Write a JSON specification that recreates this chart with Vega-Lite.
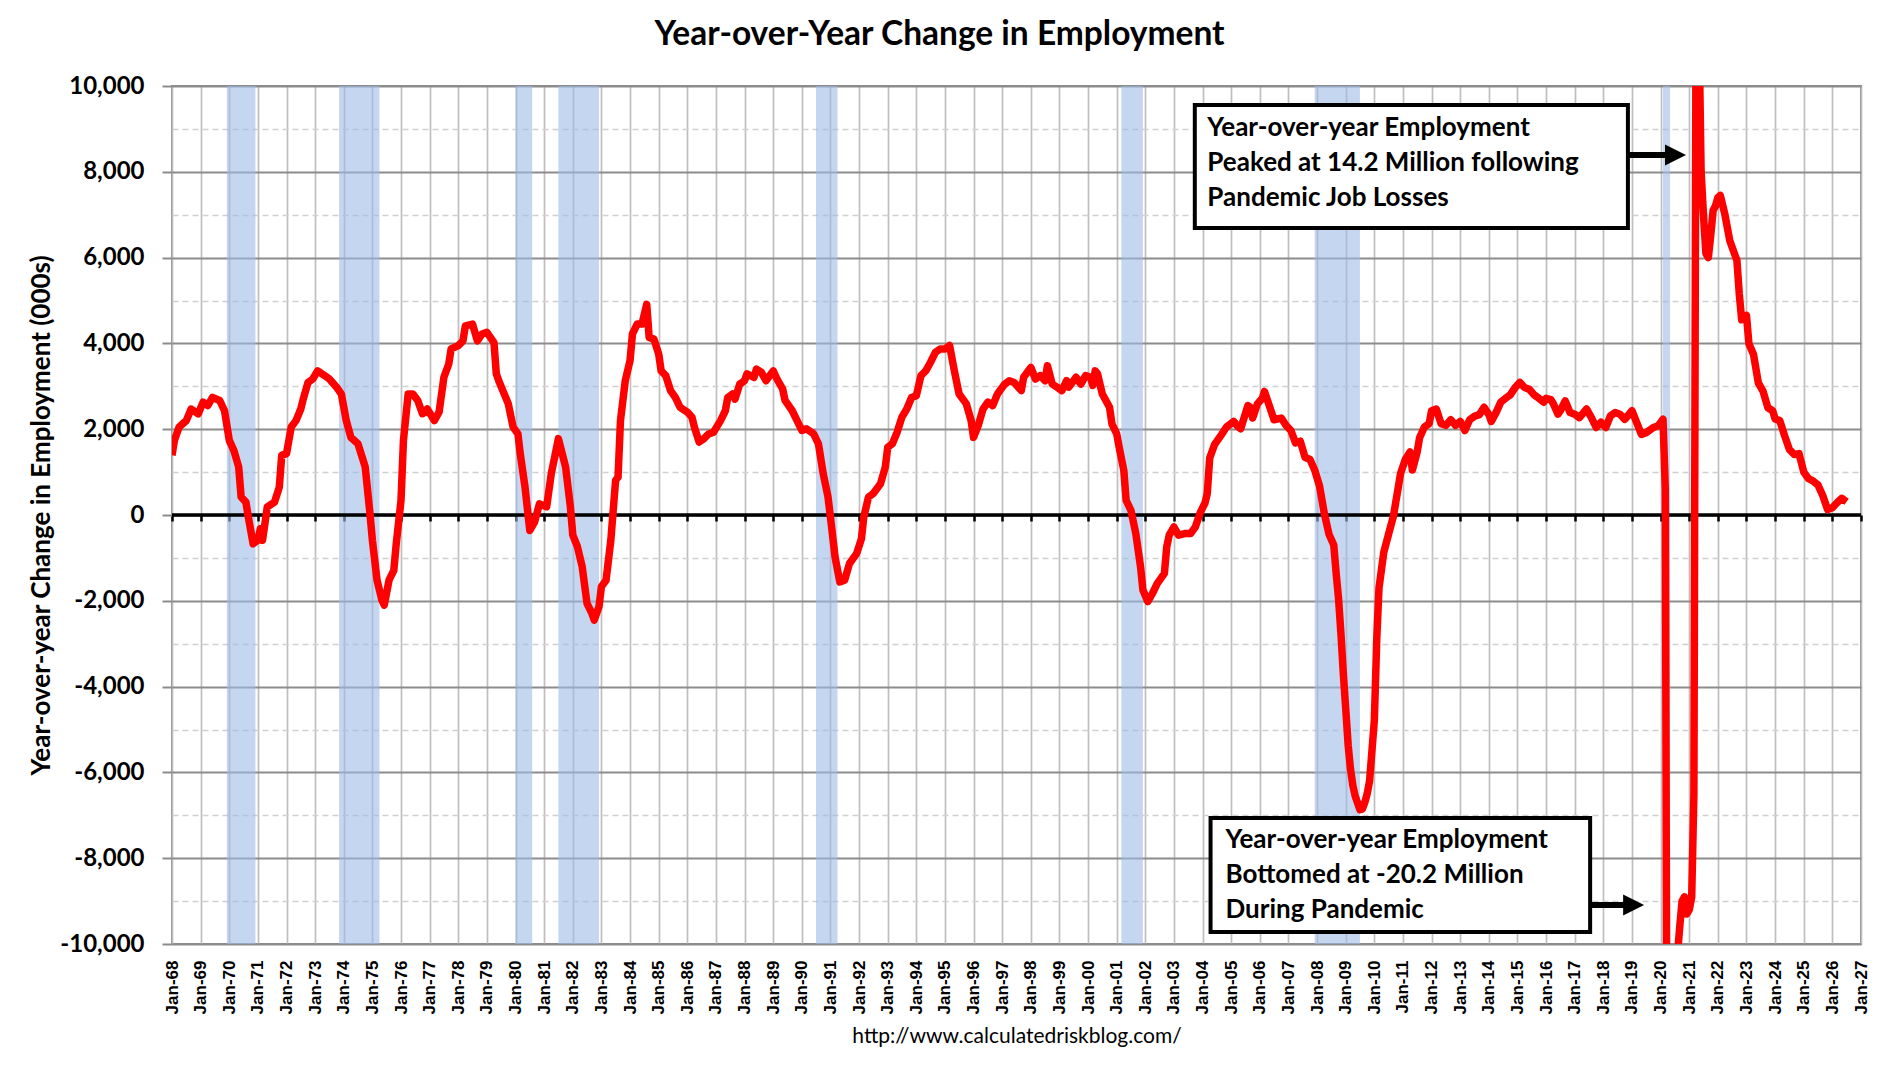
{
"$schema": "https://vega.github.io/schema/vega-lite/v6.json",
"width": 1689, "height": 858,
"autosize": {"type": "none"},
"padding": {"left": 172, "top": 86, "right": 19, "bottom": 122},
"background": "white",
"config": {"view": {"stroke": "#8c8c8c", "strokeWidth": 2}, "font": "Lato"},
"title": {"text": "Year-over-Year Change in Employment", "font": "Lato", "fontSize": 33.5, "fontWeight": "bold", "color": "black", "anchor": "middle", "frame": "group", "dx": -77, "offset": 22},
"datasets": {
"recessions": [{"start":"1969-12","end":"1970-12"},{"start":"1973-11","end":"1975-04"},{"start":"1980-01","end":"1980-08"},{"start":"1981-07","end":"1982-12"},{"start":"1990-07","end":"1991-04"},{"start":"2001-03","end":"2001-12"},{"start":"2007-12","end":"2009-07"},{"start":"2020-02","end":"2020-05"}],
"boxes": [{"x1":"2003-09-24","x2":"2018-11-10","y1":9557,"y2":6690},{"x1":"2004-04-12","x2":"2017-07-16","y1":-7063,"y2":-9720}],
"notes": [{"x":"2004-03-02","y":8834,"label":"Year-over-year Employment\nPeaked at 14.2 Million following\nPandemic Job Losses"},{"x":"2004-10-20","y":-7762,"label":"Year-over-year Employment\nBottomed at -20.2 Million\nDuring Pandemic"}],
"shafts": [{"x1":"2018-11-06","x2":"2020-03-14","y":8392},{"x1":"2017-07-02","x2":"2018-10-01","y":-9091}],
"heads": [{"x":"2020-07-09","y":8392},{"x":"2019-01-22","y":-9091}],
"emp": [
{"d":"1968-01","v":1390},{"d":"1968-02","v":1740},{"d":"1968-04","v":2050},{"d":"1968-07","v":2200},{"d":"1968-09","v":2470},{"d":"1968-12","v":2360},
{"d":"1969-02","v":2630},{"d":"1969-04","v":2550},{"d":"1969-06","v":2740},{"d":"1969-09","v":2670},{"d":"1969-11","v":2430},
{"d":"1970-01","v":1740},{"d":"1970-03","v":1500},{"d":"1970-05","v":1120},{"d":"1970-06","v":420},{"d":"1970-08","v":300},{"d":"1970-09","v":-50},{"d":"1970-11","v":-670},
{"d":"1971-01","v":-590},{"d":"1971-02","v":-320},{"d":"1971-03","v":-590},{"d":"1971-05","v":190},{"d":"1971-08","v":300},{"d":"1971-10","v":650},{"d":"1971-11","v":1390},
{"d":"1972-01","v":1430},{"d":"1972-03","v":2050},{"d":"1972-05","v":2200},{"d":"1972-07","v":2470},{"d":"1972-08","v":2700},{"d":"1972-10","v":3090},{"d":"1972-12","v":3170},
{"d":"1973-02","v":3360},{"d":"1973-05","v":3250},{"d":"1973-07","v":3170},{"d":"1973-10","v":2980},{"d":"1973-12","v":2820},
{"d":"1974-02","v":2200},{"d":"1974-04","v":1810},{"d":"1974-07","v":1660},{"d":"1974-10","v":1120},{"d":"1974-12","v":30},
{"d":"1975-01","v":-590},{"d":"1975-03","v":-1520},{"d":"1975-05","v":-1980},{"d":"1975-06","v":-2100},{"d":"1975-08","v":-1520},{"d":"1975-10","v":-1290},{"d":"1975-11","v":-670},
{"d":"1976-01","v":340},{"d":"1976-02","v":1740},{"d":"1976-04","v":2820},{"d":"1976-06","v":2820},{"d":"1976-08","v":2670},{"d":"1976-10","v":2360},{"d":"1976-12","v":2470},
{"d":"1977-03","v":2200},{"d":"1977-05","v":2400},{"d":"1977-07","v":3210},{"d":"1977-09","v":3520},{"d":"1977-10","v":3870},
{"d":"1978-01","v":3950},{"d":"1978-03","v":4060},{"d":"1978-04","v":4410},{"d":"1978-07","v":4450},{"d":"1978-09","v":4060},{"d":"1978-11","v":4220},
{"d":"1979-01","v":4260},{"d":"1979-04","v":4020},{"d":"1979-05","v":3290},{"d":"1979-06","v":3130},{"d":"1979-10","v":2590},{"d":"1979-12","v":2050},
{"d":"1980-02","v":1890},{"d":"1980-03","v":1430},{"d":"1980-05","v":650},{"d":"1980-07","v":-360},{"d":"1980-09","v":-160},{"d":"1980-11","v":260},
{"d":"1981-02","v":190},{"d":"1981-04","v":960},{"d":"1981-07","v":1780},{"d":"1981-10","v":1120},{"d":"1981-12","v":190},
{"d":"1982-01","v":-470},{"d":"1982-03","v":-740},{"d":"1982-05","v":-1210},{"d":"1982-07","v":-2060},{"d":"1982-09","v":-2290},{"d":"1982-10","v":-2450},{"d":"1982-12","v":-2140},
{"d":"1983-01","v":-1670},{"d":"1983-03","v":-1520},{"d":"1983-05","v":-590},{"d":"1983-07","v":810},{"d":"1983-08","v":880},{"d":"1983-09","v":2200},{"d":"1983-11","v":3130},
{"d":"1984-01","v":3600},{"d":"1984-02","v":4220},{"d":"1984-04","v":4450},{"d":"1984-06","v":4450},{"d":"1984-08","v":4910},{"d":"1984-09","v":4140},{"d":"1984-11","v":4100},
{"d":"1985-01","v":3750},{"d":"1985-02","v":3360},{"d":"1985-04","v":3250},{"d":"1985-06","v":2900},{"d":"1985-08","v":2740},{"d":"1985-10","v":2510},
{"d":"1986-01","v":2400},{"d":"1986-03","v":2280},{"d":"1986-04","v":2050},{"d":"1986-06","v":1700},{"d":"1986-08","v":1780},{"d":"1986-10","v":1890},{"d":"1986-12","v":1930},
{"d":"1987-03","v":2200},{"d":"1987-05","v":2430},{"d":"1987-06","v":2740},{"d":"1987-08","v":2820},{"d":"1987-09","v":2700},{"d":"1987-11","v":3050},
{"d":"1988-01","v":3130},{"d":"1988-02","v":3290},{"d":"1988-05","v":3210},{"d":"1988-06","v":3400},{"d":"1988-08","v":3330},{"d":"1988-10","v":3130},
{"d":"1989-01","v":3360},{"d":"1989-03","v":3130},{"d":"1989-05","v":2940},{"d":"1989-06","v":2670},{"d":"1989-09","v":2430},{"d":"1989-11","v":2200},
{"d":"1990-01","v":1970},{"d":"1990-03","v":2010},{"d":"1990-06","v":1890},{"d":"1990-08","v":1660},{"d":"1990-10","v":960},{"d":"1990-12","v":420},
{"d":"1991-01","v":-50},{"d":"1991-03","v":-980},{"d":"1991-05","v":-1560},{"d":"1991-07","v":-1520},{"d":"1991-09","v":-1130},{"d":"1991-12","v":-900},
{"d":"1992-02","v":-550},{"d":"1992-03","v":-50},{"d":"1992-05","v":420},{"d":"1992-07","v":500},{"d":"1992-10","v":730},{"d":"1992-12","v":1120},
{"d":"1993-01","v":1580},{"d":"1993-03","v":1660},{"d":"1993-05","v":1930},{"d":"1993-07","v":2280},{"d":"1993-09","v":2470},{"d":"1993-11","v":2740},
{"d":"1994-01","v":2780},{"d":"1994-03","v":3250},{"d":"1994-05","v":3360},{"d":"1994-07","v":3560},{"d":"1994-09","v":3790},{"d":"1994-11","v":3870},
{"d":"1995-01","v":3870},{"d":"1995-03","v":3950},{"d":"1995-05","v":3360},{"d":"1995-07","v":2820},{"d":"1995-10","v":2590},{"d":"1995-12","v":2200},
{"d":"1996-01","v":1810},{"d":"1996-03","v":2090},{"d":"1996-05","v":2470},{"d":"1996-07","v":2630},{"d":"1996-09","v":2550},{"d":"1996-11","v":2820},
{"d":"1997-02","v":3050},{"d":"1997-04","v":3130},{"d":"1997-06","v":3090},{"d":"1997-09","v":2900},{"d":"1997-10","v":3210},
{"d":"1998-01","v":3440},{"d":"1998-03","v":3170},{"d":"1998-05","v":3250},{"d":"1998-07","v":3130},{"d":"1998-08","v":3480},{"d":"1998-10","v":3050},{"d":"1998-12","v":2980},
{"d":"1999-02","v":2900},{"d":"1999-04","v":3130},{"d":"1999-05","v":2980},{"d":"1999-08","v":3210},{"d":"1999-10","v":3050},{"d":"1999-12","v":3250},
{"d":"2000-02","v":3210},{"d":"2000-03","v":3020},{"d":"2000-04","v":3360},{"d":"2000-05","v":3290},{"d":"2000-07","v":2820},{"d":"2000-10","v":2510},{"d":"2000-11","v":2120},
{"d":"2001-01","v":1890},{"d":"2001-02","v":1580},{"d":"2001-04","v":1040},{"d":"2001-05","v":340},{"d":"2001-07","v":110},{"d":"2001-09","v":-430},{"d":"2001-11","v":-1210},{"d":"2001-12","v":-1750},
{"d":"2002-02","v":-2020},{"d":"2002-04","v":-1830},{"d":"2002-06","v":-1600},{"d":"2002-09","v":-1360},{"d":"2002-10","v":-740},{"d":"2002-11","v":-470},
{"d":"2003-01","v":-280},{"d":"2003-03","v":-470},{"d":"2003-06","v":-430},{"d":"2003-08","v":-430},{"d":"2003-10","v":-280},{"d":"2003-12","v":50},
{"d":"2004-02","v":280},{"d":"2004-03","v":500},{"d":"2004-04","v":1330},{"d":"2004-06","v":1640},{"d":"2004-09","v":1880},{"d":"2004-11","v":2050},
{"d":"2005-02","v":2180},{"d":"2005-04","v":2050},{"d":"2005-05","v":2010},{"d":"2005-08","v":2550},{"d":"2005-09","v":2510},{"d":"2005-10","v":2260},{"d":"2005-12","v":2590},
{"d":"2006-02","v":2720},{"d":"2006-03","v":2880},{"d":"2006-05","v":2550},{"d":"2006-07","v":2220},{"d":"2006-10","v":2260},{"d":"2006-12","v":2090},
{"d":"2007-02","v":1970},{"d":"2007-04","v":1680},{"d":"2007-06","v":1720},{"d":"2007-08","v":1340},{"d":"2007-10","v":1300},{"d":"2007-12","v":1050},
{"d":"2008-02","v":680},{"d":"2008-04","v":50},{"d":"2008-06","v":-450},{"d":"2008-08","v":-700},{"d":"2008-09","v":-1370},{"d":"2008-10","v":-1950},{"d":"2008-11","v":-2780},{"d":"2008-12","v":-3700},
{"d":"2009-01","v":-4530},{"d":"2009-02","v":-5370},{"d":"2009-03","v":-5900},{"d":"2009-04","v":-6300},{"d":"2009-05","v":-6550},{"d":"2009-07","v":-6870},{"d":"2009-08","v":-6850},{"d":"2009-09","v":-6700},{"d":"2009-10","v":-6500},{"d":"2009-11","v":-6200},{"d":"2009-12","v":-5500},
{"d":"2010-01","v":-4780},{"d":"2010-02","v":-2870},{"d":"2010-03","v":-1700},{"d":"2010-05","v":-870},{"d":"2010-07","v":-450},{"d":"2010-09","v":-30},{"d":"2010-10","v":300},{"d":"2010-11","v":630},{"d":"2010-12","v":970},
{"d":"2011-02","v":1300},{"d":"2011-04","v":1470},{"d":"2011-05","v":1050},{"d":"2011-07","v":1470},{"d":"2011-08","v":1800},{"d":"2011-10","v":2050},{"d":"2011-12","v":2130},
{"d":"2012-01","v":2430},{"d":"2012-03","v":2470},{"d":"2012-05","v":2130},{"d":"2012-07","v":2090},{"d":"2012-09","v":2220},{"d":"2012-11","v":2090},
{"d":"2013-01","v":2180},{"d":"2013-03","v":1970},{"d":"2013-05","v":2220},{"d":"2013-07","v":2300},{"d":"2013-09","v":2340},{"d":"2013-11","v":2510},
{"d":"2014-01","v":2340},{"d":"2014-02","v":2180},{"d":"2014-04","v":2380},{"d":"2014-06","v":2630},{"d":"2014-08","v":2720},{"d":"2014-10","v":2800},{"d":"2014-12","v":2970},
{"d":"2015-02","v":3090},{"d":"2015-04","v":2970},{"d":"2015-06","v":2930},{"d":"2015-08","v":2800},{"d":"2015-10","v":2720},{"d":"2015-12","v":2630},
{"d":"2016-01","v":2720},{"d":"2016-03","v":2690},{"d":"2016-04","v":2600},{"d":"2016-06","v":2350},{"d":"2016-07","v":2430},{"d":"2016-09","v":2660},{"d":"2016-11","v":2390},
{"d":"2017-01","v":2350},{"d":"2017-03","v":2270},{"d":"2017-06","v":2470},{"d":"2017-08","v":2270},{"d":"2017-10","v":2040},{"d":"2017-12","v":2160},
{"d":"2018-02","v":2040},{"d":"2018-04","v":2310},{"d":"2018-06","v":2390},{"d":"2018-08","v":2350},{"d":"2018-10","v":2230},
{"d":"2019-01","v":2430},{"d":"2019-03","v":2160},{"d":"2019-05","v":1880},{"d":"2019-07","v":1920},{"d":"2019-10","v":2040},{"d":"2019-12","v":2080},
{"d":"2020-02","v":2230},{"d":"2020-03","v":600},{"d":"2020-04","v":-20200},{"d":"2020-05","v":-17700},{"d":"2020-06","v":-13400},{"d":"2020-07","v":-11900},{"d":"2020-08","v":-10300},{"d":"2020-09","v":-9600},{"d":"2020-10","v":-9000},{"d":"2020-11","v":-8900},{"d":"2020-12","v":-9300},
{"d":"2021-01","v":-9200},{"d":"2021-02","v":-8900},{"d":"2021-03","v":-6500},{"d":"2021-04","v":14200},{"d":"2021-05","v":11800},{"d":"2021-06","v":8000},{"d":"2021-07","v":7000},{"d":"2021-08","v":6100},{"d":"2021-09","v":6000},{"d":"2021-10","v":6500},{"d":"2021-11","v":7100},{"d":"2021-12","v":7200},
{"d":"2022-01","v":7400},{"d":"2022-02","v":7450},{"d":"2022-04","v":7000},{"d":"2022-06","v":6400},{"d":"2022-09","v":5930},{"d":"2022-10","v":5150},{"d":"2022-11","v":4550},
{"d":"2023-01","v":4650},{"d":"2023-02","v":3990},{"d":"2023-04","v":3740},{"d":"2023-06","v":3080},{"d":"2023-08","v":2880},{"d":"2023-10","v":2500},{"d":"2023-12","v":2430},
{"d":"2024-01","v":2240},{"d":"2024-03","v":2200},{"d":"2024-05","v":1850},{"d":"2024-07","v":1530},{"d":"2024-09","v":1410},{"d":"2024-11","v":1430},
{"d":"2025-01","v":1000},{"d":"2025-03","v":850},{"d":"2025-05","v":790},{"d":"2025-07","v":700},{"d":"2025-09","v":450},{"d":"2025-11","v":125},
{"d":"2026-01","v":170},{"d":"2026-03","v":285},{"d":"2026-05","v":390},{"d":"2026-07","v":310}
]
},
"layer": [
{
"data": {"name": "recessions"},
"mark": {"type": "rect", "color": "#9ebde6", "opacity": 0.6},
"encoding": {
"x": {"field": "start", "type": "temporal", "scale": {"type": "utc", "domain": [{"year": 1968, "month": 1, "date": 1, "utc": true}, {"year": 2027, "month": 1, "date": 1, "utc": true}]},
"axis": {"orient": "bottom", "offset": -429, "labels": false, "grid": false, "domain": false, "ticks": true, "tickSize": 6, "tickColor": "black", "tickWidth": 2.5, "tickCount": {"interval": "year", "step": 1}, "title": null}},
"x2": {"field": "end"}
}
},
{
"data": {"values": [{"v": 0}]},
"mark": {"type": "rule", "color": "black", "strokeWidth": 3.5},
"encoding": {"y": {"field": "v", "type": "quantitative", "scale": {"domain": [-10000, 10000], "nice": false}, "axis": null}}
},
{
"data": {"name": "emp"},
"mark": {"type": "line", "color": "#ff0000", "strokeWidth": 7.5, "clip": true, "strokeJoin": "round"},
"encoding": {
"x": {"field": "d", "type": "temporal", "scale": {"type": "utc", "domain": [{"year": 1968, "month": 1, "date": 1, "utc": true}, {"year": 2027, "month": 1, "date": 1, "utc": true}]},
"axis": {"orient": "bottom", "format": "%b-%y", "tickCount": {"interval": "year", "step": 1}, "labelAngle": -90, "labelAlign": "right", "labelBaseline": "middle", "labelFont": "Liberation Sans", "labelFontSize": 17, "labelFontWeight": "bold", "labelColor": "black", "labelPadding": 16, "labelOverlap": false, "labelFlush": false, "ticks": false, "tickSize": 0, "domain": false, "grid": true, "gridColor": "#bfbfbf", "gridWidth": 1.7, "gridOpacity": 1, "title": "http://www.calculatedriskblog.com/", "titleFont": "Lato", "titleFontSize": 21, "titleFontWeight": "normal", "titleColor": "black", "titlePadding": 12}},
"y": {"field": "v", "type": "quantitative", "scale": {"domain": [-10000, 10000], "nice": false},
"axis": {"values": [-10000,-9000,-8000,-7000,-6000,-5000,-4000,-3000,-2000,-1000,0,1000,2000,3000,4000,5000,6000,7000,8000,9000,10000],
"labelExpr": "datum.value % 2000 === 0 ? replace(format(datum.value, ','), '\u2212', '-') : ''",
"labelFont": "Lato", "labelFontSize": 24, "labelFontWeight": "bold", "labelColor": "black", "labelPadding": 18,
"tickSize": 10, "tickColor": "#8c8c8c", "tickWidth": 2,
"tickOpacity": {"condition": {"test": "datum.value % 2000 === 0", "value": 1}, "value": 0},
"domain": false, "grid": true,
"gridColor": {"condition": {"test": "datum.value % 2000 === 0", "value": "#8c8c8c"}, "value": "#d0d0d0"},
"gridWidth": {"condition": {"test": "datum.value % 2000 === 0", "value": 2}, "value": 1.5},
"gridDash": {"condition": {"test": "datum.value % 2000 !== 0", "value": [6, 4]}, "value": []},
"gridOpacity": 1,
"title": "Year-over-year Change in Employment (000s)", "titleFont": "Lato", "titleFontSize": 26, "titleFontWeight": "bold", "titleColor": "black", "titlePadding": 5}}
}
},
{
"data": {"name": "boxes"},
"mark": {"type": "rect", "fill": "white", "stroke": "black", "strokeWidth": 4},
"encoding": {
"x": {"field": "x1", "type": "temporal", "axis": null},
"x2": {"field": "x2"},
"y": {"field": "y1", "type": "quantitative", "axis": null},
"y2": {"field": "y2"}
}
},
{
"data": {"name": "notes"},
"mark": {"type": "text", "align": "left", "baseline": "alphabetic", "font": "Lato", "fontSize": 26, "fontWeight": "bold", "color": "black", "lineBreak": "\n", "lineHeight": 35},
"encoding": {
"x": {"field": "x", "type": "temporal", "axis": null},
"y": {"field": "y", "type": "quantitative", "axis": null},
"text": {"field": "label"}
}
},
{
"data": {"name": "shafts"},
"mark": {"type": "rule", "color": "black", "strokeWidth": 6},
"encoding": {
"x": {"field": "x1", "type": "temporal", "axis": null},
"x2": {"field": "x2"},
"y": {"field": "y", "type": "quantitative", "axis": null}
}
},
{
"data": {"name": "heads"},
"mark": {"type": "point", "shape": "M-1,-1L1,0L-1,1Z", "size": 441, "filled": true, "color": "black", "opacity": 1},
"encoding": {
"x": {"field": "x", "type": "temporal", "axis": null},
"y": {"field": "y", "type": "quantitative", "axis": null}
}
}
],
"resolve": {"axis": {"x": "independent", "y": "independent"}}
}
